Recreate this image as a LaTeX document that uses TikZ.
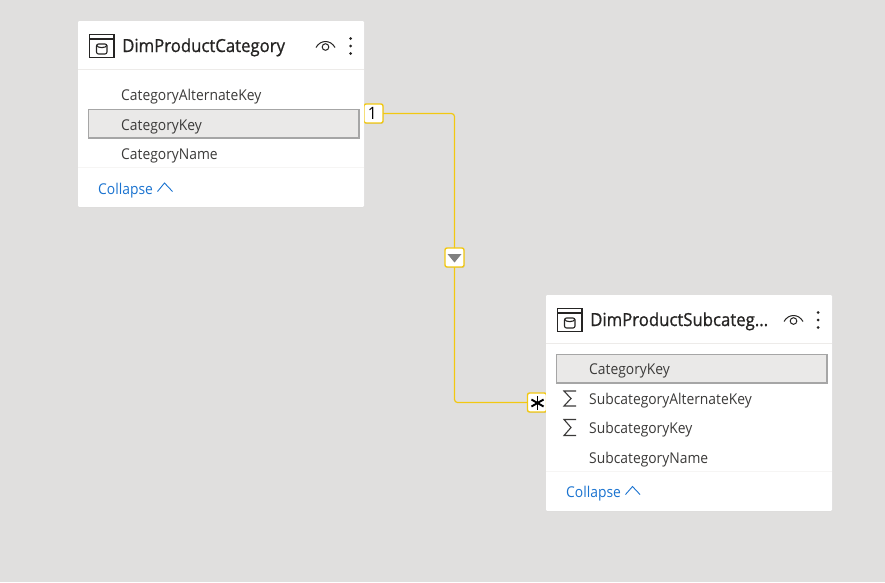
\documentclass[tikz,border=0pt]{standalone}
\usepackage{fontspec}
\setmainfont{Open Sans}
\newfontfamily\fieldfont[FakeStretch=0.93]{Open Sans}
\newfontfamily\titlefont[FakeStretch=0.93,FakeBold=0.9]{Open Sans}
\usetikzlibrary{shadows,calc}
\definecolor{canvasgray}{HTML}{E0DFDE}
\definecolor{rowgray}{HTML}{EAE9E8}
\definecolor{rowedge}{HTML}{A6A6A6}
\definecolor{linkgold}{HTML}{F2C811}
\definecolor{fieldtext}{HTML}{3B3A39}
\definecolor{inkdark}{HTML}{252423}
\definecolor{linkblue}{HTML}{1A73D0}
\definecolor{sepgray}{HTML}{EDEBE9}
\tikzset{
  x=1pt,y=-1pt,
  card/.style={fill=white,inner sep=0pt,outer sep=0pt,anchor=north west,minimum width=286pt,rounded corners=1.2pt,
    general shadow={fill=black!25,opacity=.25,shadow xshift=0pt,shadow yshift=-.6pt}},
  keyrow/.style={draw=rowedge,line width=1.1pt,fill=rowgray,inner sep=0pt,outer sep=0pt,anchor=north west,minimum width=270.5pt,minimum height=28.5pt},
  field/.style={anchor=base west,inner sep=0pt,text=fieldtext,font=\fieldfont\fontsize{14.9}{16}\selectfont},
  tabletitle/.style={anchor=base west,inner sep=0pt,text=inkdark,font=\titlefont\fontsize{18}{20}\selectfont},
  collapselabel/.style={anchor=base west,inner sep=0pt,text=linkblue,font=\fieldfont\fontsize{14.9}{16}\selectfont},
  badge/.style={draw=linkgold,line width=1.4pt,fill=white,rounded corners=2pt,inner sep=0pt,outer sep=0pt,
    minimum width=19pt,minimum height=19pt,text=black,
    general shadow={fill=black,opacity=.12,shadow xshift=.5pt,shadow yshift=-.8pt}},
  link/.style={draw=linkgold,line width=1.2pt,rounded corners=3pt},
  sep/.style={draw=sepgray,line width=.8pt},
  icon/.style={draw=inkdark,line width=1.5pt},
  chev/.style={draw=linkblue,line width=.9pt},
  sigma/.style={draw=fieldtext,line width=1.1pt,line join=miter}
}
\begin{document}
\begin{tikzpicture}
\useasboundingbox (0,0) rectangle (885,582);
\fill[canvasgray] (0,0) rectangle (885,582);

% connector and badges
\node[badge,font=\fieldfont\fontsize{17}{18}\selectfont] (one) at (373.5,113.5) {\hspace*{-2pt}1};
\node[badge] (filter) at (454.5,257.5) {};
\fill[black!50] (447.5,254) -- (461.5,254) -- (454.5,262.5) -- cycle;
\node[badge] (many) at (537,402.5) {};
\coordinate (manystar) at (537.5,403);
\draw[link] (one.east) -- (454.5,113.5) -- (filter.north);
\draw[link] (filter.south) -- (454.5,402.5) -- (many.west);

% first table
\node[card,minimum height=186pt] (cardA) at (78,21) {};
\draw[sep] (cardA.west |- 0,69) -- (cardA.east |- 0,69);
\draw[sep,draw=sepgray!50] (cardA.west |- 0,167) -- (cardA.east |- 0,167);
\node[keyrow] (rowAkey) at (88.5,109.5) {};
\node[tabletitle] (titleA) at (122,52) {DimProductCategory};
\node[field] (fa1) at (121,100) {CategoryAlternateKey};
\node[field] (fa2) at (121,130) {CategoryKey};
\node[field] (fa3) at (121,159) {CategoryName};
\node[collapselabel] (colA) at (98,194) {Collapse};
\draw[chev] (157.5,191.5) -- (164.5,183) -- (172.5,191.5);
% table icon
\begin{scope}[shift={(89,34)}]
  \draw[icon] (.5,.5) rectangle (25,23.5);
  \draw[icon] (.5,5) -- (25,5);
  \draw[icon,line width=1.1pt,rounded corners=2pt] (7.5,10) rectangle (18,20);
  \draw[icon,line width=1.1pt] (7.5,11) .. controls (8,14.5) and (17.5,14.5) .. (18,11);
\end{scope}
% eye
\begin{scope}[shift={(325.5,46)}]
  \draw[icon,line width=1pt] (-9.5,1.5) .. controls (-5,-6.5) and (5,-6.5) .. (9.5,1.5);
  \draw[icon,line width=1pt] (0,1) circle (3.3);
\end{scope}
\foreach \yy in {38.5,46,53.5} \fill[inkdark] (350.5,\yy) circle (1.5);

% second table
\node[card,minimum height=216pt] (cardB) at (546,295) {};
\draw[sep] (cardB.west |- 0,343) -- (cardB.east |- 0,343);
\draw[sep,draw=sepgray!50] (cardB.west |- 0,471) -- (cardB.east |- 0,471);
\node[keyrow] (rowBkey) at (556.5,354.5) {};
\node[tabletitle] (titleB) at (590,326) {DimProductSubcateg...};
\node[field] (fb1) at (589,374) {CategoryKey};
\node[field] (fb2) at (589,404) {SubcategoryAlternateKey};
\node[field] (fb3) at (589,433) {SubcategoryKey};
\node[field] (fb4) at (589,463) {SubcategoryName};
\node[collapselabel] (colB) at (566,497) {Collapse};
\draw[chev] (625.5,494.5) -- (632.5,486.5) -- (640,494.5);
\begin{scope}[shift={(557,308)}]
  \draw[icon] (.5,.5) rectangle (25,23.5);
  \draw[icon] (.5,5) -- (25,5);
  \draw[icon,line width=1.1pt,rounded corners=2pt] (7.5,10) rectangle (18,20);
  \draw[icon,line width=1.1pt] (7.5,11) .. controls (8,14.5) and (17.5,14.5) .. (18,11);
\end{scope}
\begin{scope}[shift={(793.5,320)}]
  \draw[icon,line width=1pt] (-9.5,1.5) .. controls (-5,-6.5) and (5,-6.5) .. (9.5,1.5);
  \draw[icon,line width=1pt] (0,1) circle (3.3);
\end{scope}
\foreach \yy in {312.5,320,327.5} \fill[inkdark] (818,\yy) circle (1.5);
% sigma marks
\draw[sigma] (576,391) -- (564,391) -- (571,398.5) -- (564,406) -- (576,406);
\draw[sigma] (576,419.5) -- (564,419.5) -- (571,427.5) -- (564,435.5) -- (576,435.5);
% many star
\foreach \aa in {0,60,120} \draw[black,line width=1.9pt] ($(manystar)+(\aa+90:7)$) -- ($(manystar)+(\aa+270:7)$);
\end{tikzpicture}
\end{document}
